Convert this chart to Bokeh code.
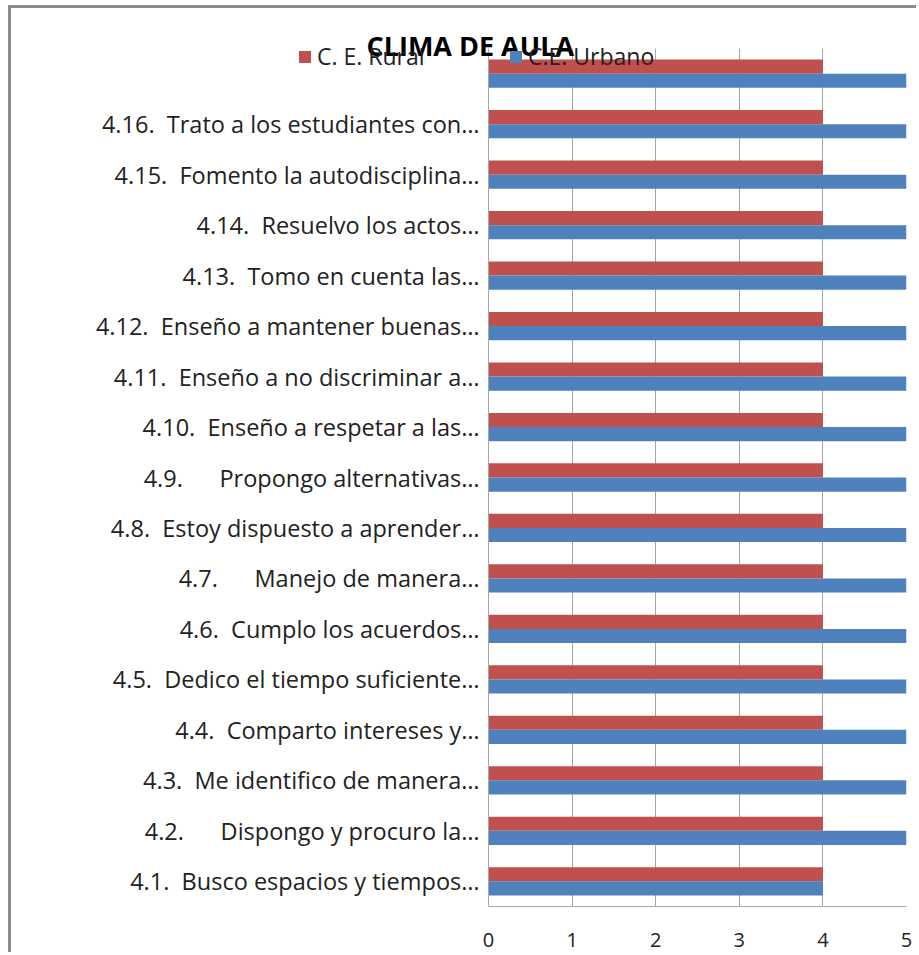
from bokeh.plotting import figure
from bokeh.models import ColumnDataSource, FactorRange, Range1d, Legend, LegendItem, Title, FixedTicker
from bokeh.transform import dodge
from bokeh.embed import file_html
from bokeh.resources import INLINE

NB = "\u00a0"
categories = [
    "4.1." + NB * 2 + "Busco espacios y tiempos…",
    "4.2." + NB * 6 + "Dispongo y procuro la…",
    "4.3." + NB * 2 + "Me identifico de manera…",
    "4.4." + NB * 2 + "Comparto intereses y…",
    "4.5." + NB * 2 + "Dedico el tiempo suficiente…",
    "4.6." + NB * 2 + "Cumplo los acuerdos…",
    "4.7." + NB * 6 + "Manejo de manera…",
    "4.8." + NB * 2 + "Estoy dispuesto a aprender…",
    "4.9." + NB * 6 + "Propongo alternativas…",
    "4.10." + NB * 2 + "Enseño a respetar a las…",
    "4.11." + NB * 2 + "Enseño a no discriminar a…",
    "4.12." + NB * 2 + "Enseño a mantener buenas…",
    "4.13." + NB * 2 + "Tomo en cuenta las…",
    "4.14." + NB * 2 + "Resuelvo los actos…",
    "4.15." + NB * 2 + "Fomento la autodisciplina…",
    "4.16." + NB * 2 + "Trato a los estudiantes con…",
    "",
]
rural = [4, 4, 4, 4, 4, 4, 4, 4, 4, 4, 4, 4, 4, 4, 4, 4, 4]
urbano = [4, 5, 5, 5, 5, 5, 5, 5, 5, 5, 5, 5, 5, 5, 5, 5, 5]
x_ticks = [0, 1, 2, 3, 4, 5]
x_max = 5
series_names = ["C. E. Rural", "C.E. Urbano"]
title_text = "CLIMA DE AULA"

RED = "#C0504D"
BLUE = "#4F81BD"
GRID = "#a6a6a6"
FONT = "Open Sans"
TXT = "#222222"

# layout (canvas pixels)
W, H = 908, 947
BORDER_RIGHT, BORDER_TOP, BORDER_BOTTOM = 13, 40, 49
AXIS_PX = 477              # where value 0 sits, measured from the frame's left edge
FRAME_W = W - BORDER_RIGHT
x_start = -x_max * AXIS_PX / (FRAME_W - AXIS_PX)

src = ColumnDataSource(dict(cat=categories, rural=rural, urbano=urbano))

p = figure(
    width=W, height=H,
    y_range=FactorRange(*categories, range_padding=0),
    x_range=Range1d(x_start, x_max),
    output_backend="svg", toolbar_location=None,
    min_border_left=0, min_border_right=BORDER_RIGHT,
    min_border_top=BORDER_TOP, min_border_bottom=BORDER_BOTTOM,
)
p.styles = {"margin-left": "8px", "margin-top": "5px",
            "border-left": "3px solid #8c8c8c", "border-top": "3px solid #8c8c8c"}
p.outline_line_color = None
p.background_fill_color = "white"
p.border_fill_color = "white"

r1 = p.hbar(y=dodge("cat", 0.14, range=p.y_range), right="rural", left=0, height=0.28,
            source=src, fill_color=RED, line_color=None)
r2 = p.hbar(y=dodge("cat", -0.14, range=p.y_range), right="urbano", left=0, height=0.28,
            source=src, fill_color=BLUE, line_color=None)

p.ygrid.grid_line_color = None
p.xgrid.grid_line_color = GRID
p.xgrid.grid_line_width = 1
p.xgrid.ticker = FixedTicker(ticks=x_ticks)
p.xaxis.ticker = FixedTicker(ticks=x_ticks)
p.xaxis.bounds = (0, x_max)
p.yaxis.fixed_location = 0

for ax in (p.xaxis[0], p.yaxis[0]):
    ax.axis_line_color = GRID
    ax.major_tick_line_color = None
    ax.minor_tick_line_color = None
    ax.major_label_text_font = FONT
    ax.major_label_text_color = TXT
p.yaxis.major_label_text_font_size = "23.5px"
p.xaxis.major_label_text_font_size = "20px"
p.xaxis.major_label_standoff = 20
p.yaxis.major_label_standoff = 3

legend = Legend(
    items=[LegendItem(label=series_names[0], renderers=[r1]),
           LegendItem(label=series_names[1], renderers=[r2])],
    location=(286, 834), orientation="horizontal",
    padding=0, margin=0, spacing=0, glyph_width=15, glyph_height=15,
    label_standoff=5, label_width=191,
    label_text_font=FONT, label_text_font_size="23px", label_text_color=TXT,
    border_line_color=None, background_fill_alpha=0,
)
p.add_layout(legend, "center")

p.add_layout(Title(text=title_text, align="left", offset=355, standoff=-31,
                   text_font=FONT, text_font_style="bold", text_font_size="27px",
                   text_color="black"), "above")

open("out.html", "w").write(file_html(p, INLINE))
